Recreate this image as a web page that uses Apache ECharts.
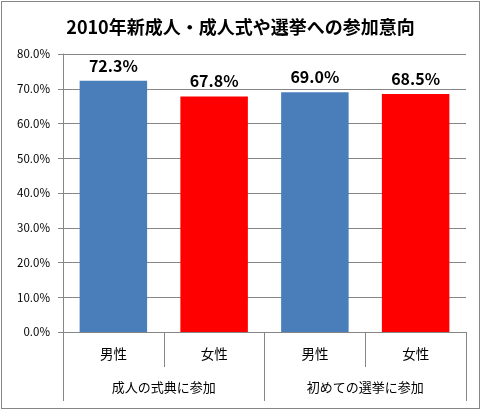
<!DOCTYPE html>
<html>
<head>
<meta charset="utf-8">
<script src="https://cdn.jsdelivr.net/npm/echarts@6/dist/echarts.min.js"></script>
<style>
html,body{margin:0;padding:0;background:#fff;}
#c{position:absolute;left:1px;top:1px;width:479px;height:408px;border:1px solid #868686;box-sizing:border-box;}
</style>
</head>
<body>
<div id="c"></div>
<script>
const titleText = '2010年新成人・成人式や選挙への参加意向';
const categories = ['男性', '女性', '男性', '女性'];
const groups = ['成人の式典に参加', '初めての選挙に参加'];
const values = [72.3, 67.8, 69.0, 68.5];
const barColors = ['#4A7EBB', '#FF0000', '#4A7EBB', '#FF0000'];
const yTicks = [0, 10, 20, 30, 40, 50, 60, 70, 80];

const font = '"Noto Sans CJK JP", "Noto Sans", sans-serif';
const chart = echarts.init(document.getElementById('c'));
chart.setOption({
  animation: false,
  title: {
    text: titleText, left: 'center', top: 11,
    textStyle: { fontFamily: font, fontSize: 18, fontWeight: 'bold', color: '#000' }
  },
  grid: { left: 61, right: 13, top: 52, bottom: 76, containLabel: false },
  xAxis: [
    {
      type: 'category', data: categories, position: 'bottom',
      axisLine: { lineStyle: { color: '#868686', width: 1 } },
      axisTick: { show: true, length: 35, interval: 0, lineStyle: { color: '#868686' } },
      axisLabel: { interval: 0, margin: 15, fontFamily: font, fontSize: 13.5, color: '#000' }
    },
    {
      type: 'category', data: groups, position: 'bottom', offset: 35,
      axisLine: { show: false },
      axisTick: { show: true, length: 34, interval: 0, lineStyle: { color: '#868686' } },
      axisLabel: { interval: 0, margin: 14, fontFamily: font, fontSize: 13, color: '#000' }
    }
  ],
  yAxis: {
    type: 'value', min: yTicks[0], max: yTicks[yTicks.length - 1], interval: 10,
    axisLine: { show: true, lineStyle: { color: '#868686' } },
    axisTick: { show: true, length: 5, lineStyle: { color: '#868686' } },
    splitLine: { lineStyle: { color: '#868686' } },
    axisLabel: { margin: 13, fontFamily: font, fontSize: 11.5, color: '#000',
      formatter: v => v.toFixed(1) + '%' }
  },
  series: [{
    type: 'bar', xAxisIndex: 0, barWidth: '67%',
    data: values.map((v, i) => ({ value: v, itemStyle: { color: barColors[i] } })),
    label: { show: true, position: 'top', distance: 7, fontFamily: font, fontSize: 16,
      fontWeight: 'bold', color: '#000', formatter: p => p.value.toFixed(1) + '%' }
  }]
});
</script>
</body>
</html>
